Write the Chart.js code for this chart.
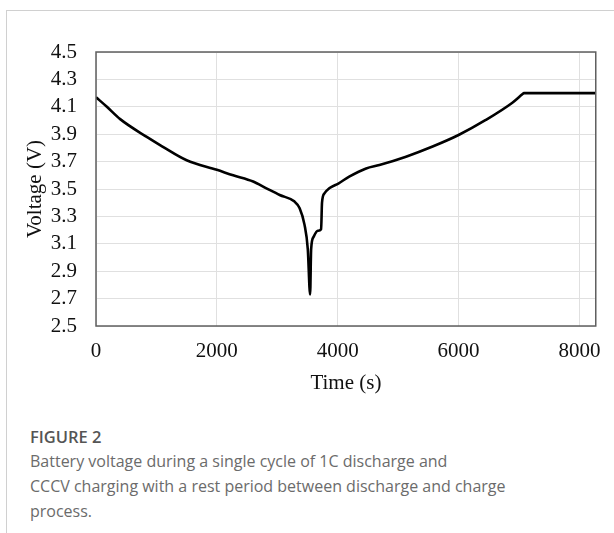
<!DOCTYPE html>
<html>
<head>
<meta charset="utf-8">
<script src="https://cdn.jsdelivr.net/npm/chart.js@4"></script>
<style>
  html,body{margin:0;padding:0;background:#fff;}
  body{width:614px;height:533px;position:relative;overflow:hidden;}
  .frame{position:absolute;left:6px;top:10px;right:0;bottom:0;border-left:1px solid #d0d0d0;border-top:1px solid #d0d0d0;}
  #wrap{position:absolute;left:0;top:0;width:614px;height:400px;}
  .cap{position:absolute;left:30px;top:424px;font-family:"Open Sans",sans-serif;color:#6b6b6b;font-size:16px;line-height:25px;}
  .cap b{display:block;font-weight:600;color:#555;font-size:16.5px;}
</style>
</head>
<body>
<div class="frame"></div>
<div id="wrap"><canvas id="voltChart"></canvas></div>
<div class="cap"><b>FIGURE 2</b>Battery voltage during a single cycle of 1C discharge and<br>CCCV charging with a rest period between discharge and charge<br>process.</div>
<script>
// lecturas de la figura
const timeS = [0,180,400,840,1100,1500,2000,2270,2600,2820,3040,3280,3370,3450,3505,3543,
  3560,3600,3670,3725,3740,3780,3860,4010,4190,4470,4690,5130,5570,6000,6450,6890,7065,7080,8270];
const voltageV = [4.17,4.10,4.01,3.88,3.81,3.71,3.64,3.60,3.555,3.505,3.456,3.41,3.36,3.24,3.06,2.73,
  3.06,3.15,3.195,3.206,3.40,3.468,3.505,3.54,3.59,3.65,3.675,3.736,3.81,3.894,4.004,4.13,4.195,4.20,4.20];
const timeTicks = [0,2000,4000,6000,8000];
const voltTicks = [2.5,2.7,2.9,3.1,3.3,3.5,3.7,3.9,4.1,4.3,4.5];

const serif = {family:'"Liberation Serif","Times New Roman",serif', size:21};

const boxPlugin = {
  id:'box',
  afterDraw(chart){
    const a = chart.chartArea, c = chart.ctx;
    c.save();
    c.strokeStyle = '#5f5f5f';
    c.lineWidth = 1.5;
    c.strokeRect(a.left, a.top, a.right-a.left, a.bottom-a.top);
    c.restore();
  }
};

const ctx = document.getElementById('voltChart').getContext('2d');
new Chart(ctx,{
  type:'scatter',
  data:{
    datasets:[{
      data: timeS.map((t,i)=>({x:t,y:voltageV[i]})),
      showLine:true,
      borderColor:'#000',
      borderWidth:2.6,
      borderJoinStyle:'round',
      pointRadius:0,
      cubicInterpolationMode:'monotone'
    }]
  },
  options:{
    responsive:true,
    maintainAspectRatio:false,
    animation:false,
    layout:{padding:{top:52,right:17,left:0,bottom:0}},
    plugins:{legend:{display:false},tooltip:{enabled:false}},
    scales:{
      x:{
        type:'linear', min:0, max:8270,
        afterBuildTicks(s){ s.ticks = timeTicks.map(v=>({value:v})); },
        afterFit(s){ s.height = 74; },
        grid:{color:'#e0e0e0', lineWidth:1, drawTicks:false},
        border:{display:false},
        ticks:{color:'#111', font:serif, padding:13, maxRotation:0, autoSkip:false, callback:v=>String(v)},
        title:{display:true, text:'Time (s)', color:'#111', font:serif, padding:{top:4}}
      },
      y:{
        min:2.5, max:4.5,
        afterBuildTicks(s){ s.ticks = voltTicks.map(v=>({value:v})); },
        afterFit(s){ s.width = 96; },
        grid:{color:'#e0e0e0', lineWidth:1, drawTicks:false},
        border:{display:false},
        ticks:{color:'#111', font:serif, padding:19, autoSkip:false, callback:v=>v.toFixed(1)},
        title:{display:true, text:'Voltage (V)', color:'#111', font:serif, padding:{top:23,bottom:0}}
      }
    }
  },
  plugins:[boxPlugin]
});
</script>
</body>
</html>
